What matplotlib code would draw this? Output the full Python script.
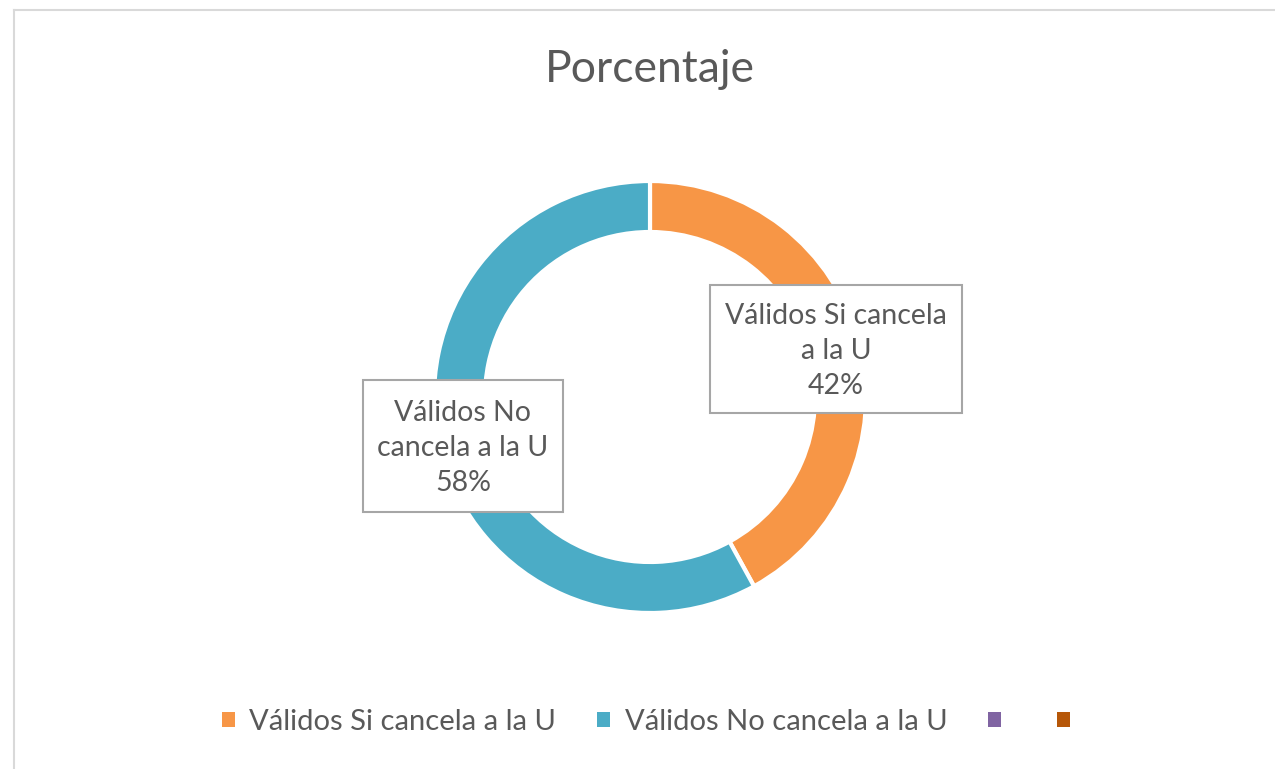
import matplotlib
matplotlib.use("Agg")
import matplotlib.pyplot as plt
from matplotlib.patches import Rectangle
from matplotlib.lines import Line2D

# ---- data ----
title = "Porcentaje"
categories = ["Válidos Si cancela a la U", "Válidos No cancela a la U"]
values = [42, 58]
label_texts = ["Válidos Si cancela\na la U\n42%", "Válidos No\ncancela a la U\n58%"]
legend_labels = ["Válidos Si cancela a la U", "Válidos No cancela a la U", "", ""]
colors = ["#F79646", "#4BACC6"]
legend_colors = ["#F79646", "#4BACC6", "#8064A2", "#B65708"]

W, H = 1275, 769
DPI = 100
fig = plt.figure(figsize=(W / DPI, H / DPI), dpi=DPI)
fig.patch.set_facecolor("white")
plt.rcParams['font.family'] = ['Lato', 'DejaVu Sans']
TXT = "#595959"

# frame lines (top and left)
fig.add_artist(Line2D([14 / W, 1], [1 - 9.5 / H, 1 - 9.5 / H], color="#D9D9D9", lw=1.5, transform=fig.transFigure))
fig.add_artist(Line2D([14 / W, 14 / W], [1 - 9.5 / H, 0], color="#D9D9D9", lw=1.5, transform=fig.transFigure))

# donut axes
cx, cy, R = 650, 397, 216
half = 250
ax = fig.add_axes([(cx - half) / W, (H - cy - half) / H, 2 * half / W, 2 * half / H])
ax.pie(values, colors=colors, startangle=90, counterclock=False, radius=1,
       wedgeprops=dict(width=51 / R, edgecolor="white", linewidth=3))
ax.set_xlim(-half / R, half / R)
ax.set_ylim(-half / R, half / R)
ax.axis("off")

# data label boxes (pixel geometry)
boxes = [(710, 285, 962, 413), (363, 380, 563, 512)]
for (x0, y0, x1, y1), txt in zip(boxes, label_texts):
    fig.add_artist(Rectangle((x0 / W, 1 - y1 / H), (x1 - x0) / W, (y1 - y0) / H,
                             transform=fig.transFigure, facecolor="white",
                             edgecolor="#A6A6A6", lw=1.5, zorder=5))
    fig.text((x0 + x1) / 2 / W, 1 - ((y0 + y1) / 2 + 2) / H, txt, ha="center", va="center",
             fontsize=20.5, color=TXT, linespacing=1.45, zorder=6)

fig.text(650 / W, 1 - 70 / H, title, ha="center", va="center", fontsize=32, color=TXT)

handles = [Rectangle((0, 0), 1, 1, facecolor=c, edgecolor="none") for c in legend_colors]
leg = fig.legend(handles, legend_labels, loc="center", bbox_to_anchor=(653 / W, 1 - 722 / H),
                 ncol=4, frameon=False, fontsize=21, handlelength=0.45, handleheight=0.45,
                 handletextpad=0.5, columnspacing=1.4, labelcolor=TXT)

fig.savefig("out.png", dpi=DPI)
